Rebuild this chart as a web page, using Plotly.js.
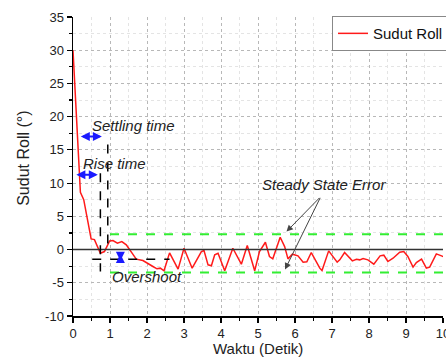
<!DOCTYPE html>
<html><head><meta charset="utf-8">
<script src="https://cdn.plot.ly/plotly-3.0.1.min.js"></script>
<style>html,body{margin:0;padding:0;background:#fff}#c{width:446px;height:363px}</style>
</head><body><div id="c"></div>
<script>
const waktu = [0, 0.2, 0.29, 0.38, 0.49, 0.58, 0.74, 0.85, 0.99, 1.08, 1.2, 1.32, 1.44, 1.71, 1.89, 2.16, 2.27, 2.36, 2.46, 2.61, 2.84, 3.0, 3.22, 3.47, 3.54, 3.65, 3.74, 3.83, 3.92, 4.1, 4.32, 4.55, 4.71, 4.91, 5.04, 5.2, 5.31, 5.4, 5.6, 5.72, 5.81, 5.93, 6.08, 6.22, 6.32, 6.44, 6.67, 6.73, 6.91, 7.14, 7.21, 7.34, 7.55, 7.66, 7.75, 7.84, 7.97, 8.13, 8.3, 8.4, 8.51, 8.65, 8.83, 8.94, 9.05, 9.19, 9.28, 9.42, 9.55, 9.64, 9.82, 9.96, 10.05];
const sudutRoll = [30, 8.6, 7.5, 4.6, 1.6, 1.5, -0.55, -0.3, 1.3, 1.35, 0.95, 1.2, 0.7, -1.45, -1.65, -2.55, -2.9, -2.8, -3.2, -0.5, -2.95, 0.2, -2.8, -0.3, -0.15, -2.3, -2.45, -0.8, -0.55, -3.2, 0.2, -2.2, 0.6, -3.2, -0.3, 1.1, -1.05, -1.4, 1.85, 0.45, -1.4, -0.7, -0.95, -1.9, -1.85, -0.45, -2.8, -3.15, -0.2, -1.9, -1.55, -0.45, -1.7, -1.45, -1.55, -1.35, -1.55, -2.2, -0.95, -0.85, -1.8, -1.3, -0.4, -0.3, -1.05, -2.65, -1.95, -1.45, -2.8, -2.65, -0.65, -0.95, -1.15];
const yTicks = [-10, -5, 0, 5, 10, 15, 20, 25, 30, 35];
const yTickText = ["-10", "-5", "0", "5", "10", "15", "20", "25", "30", "35"];
const xTicks = [0, 1, 2, 3, 4, 5, 6, 7, 8, 9, 10];
const steadyBand = [2.3, -3.45];
const bandStart = 1.0;
const riseX = 0.74, riseTop = 11.5, riseBottom = -3.3;
const settleX = 0.94, settleTop = 15.8, settleBottom = -0.5;
const overshootY = -1.45, overshootX0 = 0.52, overshootX1 = 2.61;
const riseArrow = [0.05, 0.67, 11.25];
const settleArrow = [0.17, 0.78, 17.0];
const overArrow = [1.28, -0.45, -1.7];

const font = "Arial, 'Liberation Sans', sans-serif";
const black = '#000';
const shapes = [
  {type:'line', xref:'x', yref:'y', x0:0, x1:10.1, y0:0, y1:0, line:{color:'#333', width:1.5}},
  {type:'line', xref:'x', yref:'y', x0:bandStart, x1:10.1, y0:steadyBand[0], y1:steadyBand[0], line:{color:'#33ee33', width:2, dash:'dash'}},
  {type:'line', xref:'x', yref:'y', x0:bandStart, x1:10.1, y0:steadyBand[1], y1:steadyBand[1], line:{color:'#33ee33', width:2, dash:'dash'}},
  {type:'line', xref:'x', yref:'y', x0:riseX, x1:riseX, y0:riseTop, y1:riseBottom, line:{color:black, width:1.5, dash:'dash'}},
  {type:'line', xref:'x', yref:'y', x0:settleX, x1:settleX, y0:settleTop, y1:settleBottom, line:{color:black, width:1.5, dash:'dash'}},
  {type:'line', xref:'x', yref:'y', x0:overshootX0, x1:overshootX1, y0:overshootY, y1:overshootY, line:{color:black, width:1.5, dash:'dash'}}
];
function dbl(x0, y0, x1, y1, color, w) {
  return {x:x1, y:y1, ax:x0, ay:y0, xref:'x', yref:'y', axref:'x', ayref:'y', text:'', showarrow:true,
    arrowhead:2, startarrowhead:2, arrowside:'end+start', arrowsize:0.9, startarrowsize:0.9, arrowwidth:w, arrowcolor:color, standoff:0, startstandoff:0};
}
function single(x0, y0, x1, y1) {
  return {x:x1, y:y1, ax:x0, ay:y0, xref:'x', yref:'y', axref:'x', ayref:'y', text:'', showarrow:true,
    arrowhead:2, arrowsize:1.3, arrowwidth:1, arrowcolor:'#444', standoff:0};
}
function label(t, x, y) {
  return {x:x, y:y, xref:'x', yref:'y', text:'<i>'+t+'</i>', showarrow:false, xanchor:'left', yanchor:'middle',
    font:{family:font, size:15, color:'#222'}};
}
const annotations = [
  dbl(settleArrow[0], settleArrow[2], settleArrow[1], settleArrow[2], '#1a1aff', 2),
  dbl(riseArrow[0], riseArrow[2], riseArrow[1], riseArrow[2], '#1a1aff', 2),
  dbl(overArrow[0], overArrow[1], overArrow[0], overArrow[2], '#1a1aff', 2),
  single(6.7, 8.0, 5.77, 2.7),
  single(6.7, 8.0, 5.73, -3.0),
  label('Settling time', 0.46, 18.7),
  label('Rise time', 0.22, 13.0),
  label('Overshoot', 1.0, -4.0),
  label('Steady State Error', 5.05, 9.8),
  {x:0.5, y:-0.108, xref:'paper', yref:'paper', text:'Waktu (Detik)', showarrow:false, xanchor:'center', yanchor:'middle',
    font:{family:font, size:15, color:'#222'}},
  {x:-0.136, y:0.528, xref:'paper', yref:'paper', text:'Sudut Roll (°)', textangle:-90, showarrow:false, xanchor:'center', yanchor:'middle',
    font:{family:font, size:16, color:'#222'}}
];

const trace = {x:waktu, y:sudutRoll, type:'scatter', mode:'lines', name:'Sudut Roll',
  line:{color:'#ff1a1a', width:1.5}};

const axisCommon = {showline:true, linecolor:black, linewidth:1.5, ticks:'outside', ticklen:5, tickwidth:1.2, tickcolor:black,
  showgrid:true, gridcolor:'#b8b8b8', griddash:'dot', gridwidth:1, zeroline:false, ticklabeloverflow:'allow',
  tickfont:{family:font, size:13, color:'#222'}};

const layout = {
  width:446, height:363,
  margin:{l:73.3, r:2.7, t:17, b:47.3, autoexpand:false},
  paper_bgcolor:'#fff', plot_bgcolor:'#fff',
  showlegend:true,
  legend:{x:0.7, y:1.003, xanchor:'left', yanchor:'top', bordercolor:'#888', borderwidth:1, bgcolor:'#fff',
    font:{family:font, size:15, color:'#111'}, itemwidth:30, tracegroupgap:0},
  xaxis:Object.assign({}, axisCommon, {range:[0, 10], tickvals:xTicks,
    minor:{dtick:0.5, ticks:'outside', ticklen:3, tickcolor:black, showgrid:true, gridcolor:'#e4e4e4', griddash:'dot'}}),
  yaxis:Object.assign({}, axisCommon, {range:[-10, 35], tickvals:yTicks, ticktext:yTickText,
    minor:{dtick:2.5, ticks:'outside', ticklen:3, tickcolor:black, showgrid:true, gridcolor:'#e4e4e4', griddash:'dot'}}),
  shapes:shapes, annotations:annotations
};
Plotly.newPlot('c', [trace], layout, {displayModeBar:false, staticPlot:true});
</script></body></html>
